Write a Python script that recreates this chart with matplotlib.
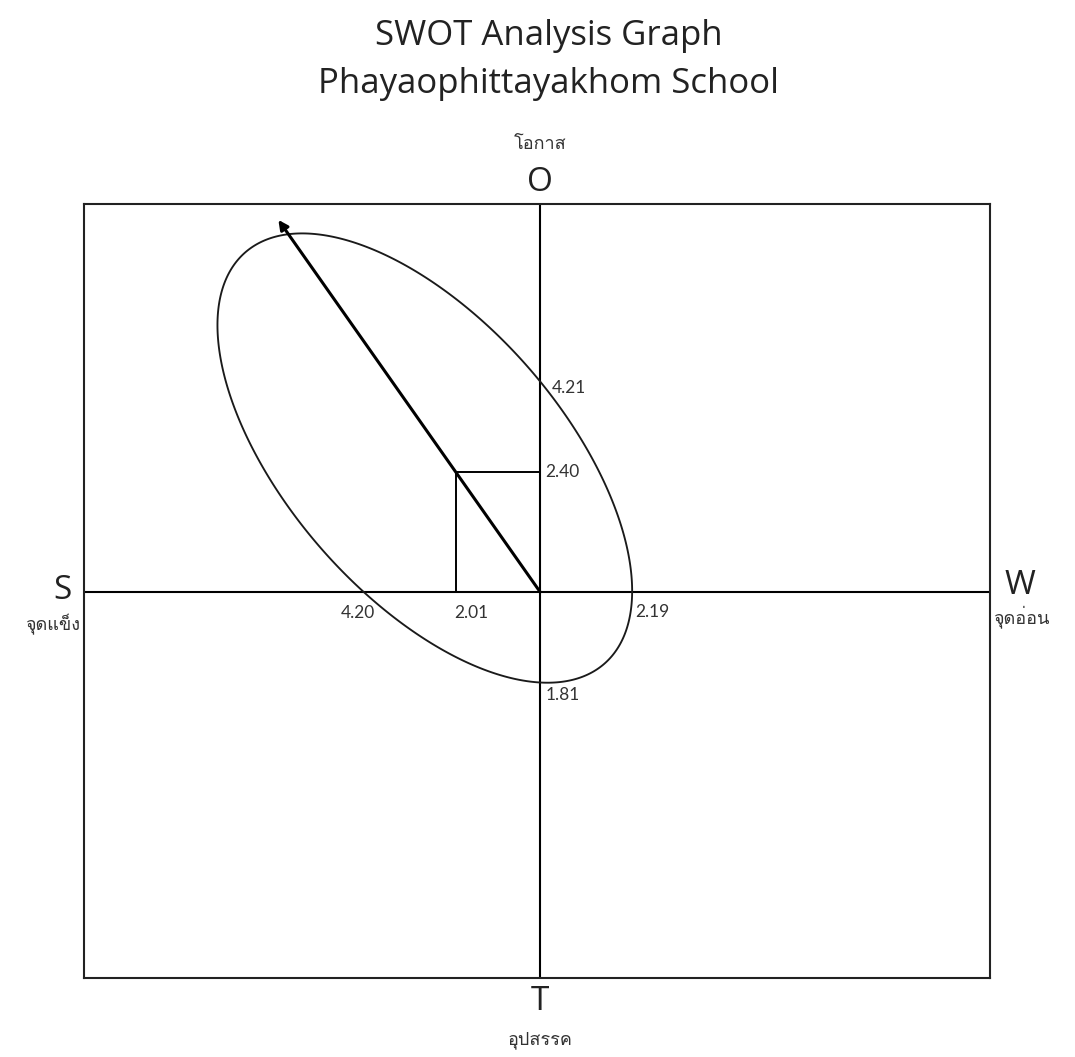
import numpy as np
import matplotlib
matplotlib.use("Agg")
import matplotlib.pyplot as plt
from matplotlib import font_manager
from matplotlib.ft2font import FT2Font

# ---- data ----
strength = 4.20      # S, left side
weakness = 2.19      # W, right side
opportunity = 4.21   # O, top
threat = 1.81        # T, bottom
position = (strength - weakness, opportunity - threat)   # (2.01, 2.40)

title_lines = ["SWOT Analysis Graph", "Phayaophittayakhom School"]
side_letters = {"S": "จุดแข็ง", "W": "จุดอ่อน", "O": "โอกาส", "T": "อุปสรรค"}

# tilt of the ellipse (xy term of the conic), fitted to the drawing
TILT = 1.30
XLIM = (-10.86, 10.71)
YLIM = (-7.72, 7.76)


def find_thai_font():
    seen = set()
    for f in font_manager.fontManager.ttflist:
        if f.fname in seen:
            continue
        seen.add(f.fname)
        try:
            cmap = FT2Font(f.fname).get_charmap()
        except Exception:
            continue
        if 0x0E01 in cmap and 0x0E2A in cmap and 0x0E42 in cmap:
            return f.name
    return None


thai = find_thai_font()
thai_family = [thai, "DejaVu Sans"] if thai else ["DejaVu Sans"]
latin = "Open Sans"

fig = plt.figure(figsize=(10.75, 10.57), dpi=100)
ax = fig.add_axes([84 / 1075, 79 / 1057, 906 / 1075, 774 / 1057])
ax.set_xlim(*XLIM)
ax.set_ylim(*YLIM)
ax.set_xticks([])
ax.set_yticks([])
for sp in ax.spines.values():
    sp.set_linewidth(1.5)
    sp.set_color("#222222")

ax.axhline(0, color="black", lw=1.5)
ax.axvline(0, color="black", lw=1.5)

# conic through the four axis intercepts: x = -S, W ; y = O, -T
x1, x2 = -strength, weakness
y1, y2 = opportunity, -threat
A = 1.0
D = -(x1 + x2)
F = x1 * x2
C = F / (y1 * y2)
E = -C * (y1 + y2)
B = TILT

xs = np.linspace(XLIM[0], XLIM[1], 1400)
ys = np.linspace(YLIM[0], YLIM[1], 1400)
X, Y = np.meshgrid(xs, ys)
Z = A * X**2 + B * X * Y + C * Y**2 + D * X + E * Y + F
ax.contour(X, Y, Z, levels=[0], colors="#1a1a1a", linewidths=1.35)

# strategic position square
px, py = -position[0], position[1]
ax.plot([px, px, 0], [0, py, py], color="black", lw=1.4)

# arrow from origin through the position, ending just past the ellipse
qa = A * px**2 + B * px * py + C * py**2
qb = D * px + E * py
t = (-qb + np.sqrt(qb**2 - 4 * qa * F)) / (2 * qa)
t *= 1.04
ax.annotate("", xy=(t * px, t * py), xytext=(0, 0),
            arrowprops=dict(arrowstyle="-|>", lw=2.2, color="black",
                            mutation_scale=14, shrinkA=0, shrinkB=0))

# value labels
num_kw = dict(textcoords="offset pixels", fontsize=12.5, color="#333333",
              family="Lato")
ax.annotate(f"{opportunity:.2f}", (0, opportunity), xytext=(12, -6),
            ha="left", va="center", **num_kw)
ax.annotate(f"{position[1]:.2f}", (0, py), xytext=(5, 0),
            ha="left", va="center", **num_kw)
ax.annotate(f"{strength:.2f}", (-strength, 0), xytext=(-6, -21),
            ha="center", va="center", **num_kw)
ax.annotate(f"{position[0]:.2f}", (px, 0), xytext=(16, -21),
            ha="center", va="center", **num_kw)
ax.annotate(f"{weakness:.2f}", (weakness, 0), xytext=(3, -20),
            ha="left", va="center", **num_kw)
ax.annotate(f"{threat:.2f}", (0, -threat), xytext=(5, -12),
            ha="left", va="center", **num_kw)

# side letters and Thai names
let_kw = dict(textcoords="offset pixels", fontsize=24, color="#222222",
              family=latin, ha="center", va="center", annotation_clip=False)
th_kw = dict(textcoords="offset pixels", fontsize=13, color="#333333",
             family=thai_family, va="center", annotation_clip=False)

ax.annotate("S", (XLIM[0], 0), xytext=(-22, 2), **let_kw)
ax.annotate(side_letters["S"], (XLIM[0], 0), xytext=(-4, -32), ha="right", **th_kw)
ax.annotate("W", (XLIM[1], 0), xytext=(30, 7), **let_kw)
ax.annotate(side_letters["W"], (XLIM[1], 0), xytext=(3, -25), ha="left", **th_kw)
ax.annotate("O", (0, YLIM[1]), xytext=(0, 22), **let_kw)
ax.annotate(side_letters["O"], (0, YLIM[1]), xytext=(0, 60), ha="center", **th_kw)
ax.annotate("T", (0, YLIM[0]), xytext=(0, -24), **let_kw)
ax.annotate(side_letters["T"], (0, YLIM[0]), xytext=(0, -62), ha="center", **th_kw)

fig.text(549 / 1075, 1 - 36 / 1057, title_lines[0], ha="center", va="center",
         fontsize=25, color="#222222", family=latin)
fig.text(549 / 1075, 1 - 84 / 1057, title_lines[1], ha="center", va="center",
         fontsize=25, color="#222222", family=latin)

fig.savefig("out.png", dpi=100, facecolor="white")
